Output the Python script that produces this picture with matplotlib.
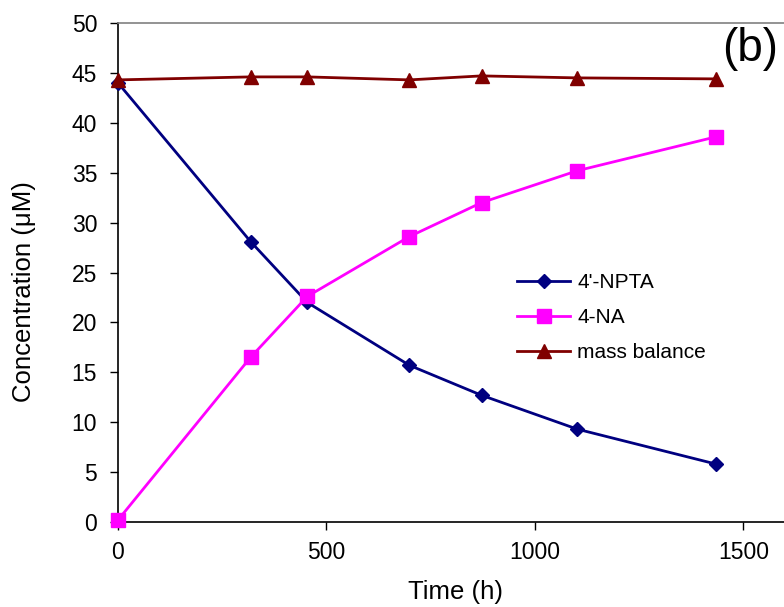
import matplotlib
matplotlib.use("Agg")
import matplotlib.pyplot as plt

plt.rcParams['font.family'] = ['Liberation Sans', 'DejaVu Sans']

time_h = [0, 318, 454, 699, 872, 1102, 1435]
npta = [44.0, 28.1, 22.0, 15.7, 12.7, 9.3, 5.8]
na4 = [0.2, 16.5, 22.6, 28.6, 32.0, 35.2, 38.6]
mass_balance = [44.3, 44.6, 44.6, 44.3, 44.7, 44.5, 44.4]

fig = plt.figure(figsize=(7.84, 6.07), dpi=100)
ax = fig.add_axes([118/784, (607-522)/607, 667/784, (522-23)/607])

ax.plot(time_h, npta, color='#000080', marker='D', markersize=7, lw=2, label="4'-NPTA", clip_on=False, zorder=3)
ax.plot(time_h, na4, color='#FF00FF', marker='s', markersize=10, lw=2, label="4-NA", clip_on=False, zorder=3)
ax.plot(time_h, mass_balance, color='#800000', marker='^', markersize=10, lw=2, label="mass balance", clip_on=False, zorder=4)

ax.set_xlim(0, 1600)
ax.set_ylim(0, 50)
ax.set_xticks([0, 500, 1000, 1500])
ax.set_yticks(range(0, 51, 5))
ax.tick_params(axis='both', labelsize=16.5, direction='out', length=6, width=1, colors='black')
ax.tick_params(axis='x', pad=8)
ax.tick_params(axis='y', pad=9)
ax.spines['right'].set_visible(False)
ax.spines['top'].set_color('#808080')
ax.spines['top'].set_linewidth(1.2)
ax.spines['left'].set_linewidth(1.2)
ax.spines['bottom'].set_linewidth(1.2)

ax.set_xlabel('Time (h)', fontsize=18.5)
ax.set_ylabel('Concentration (μM)', fontsize=18.5)
ax.xaxis.set_label_coords((456-118)/667, (522-592)/499)
ax.yaxis.set_label_coords((24-118)/667, (522-292)/499)
ax.xaxis.label.set_va('center')
ax.yaxis.label.set_va('center')

ax.text((750-118)/667, (522-49)/499, '(b)', transform=ax.transAxes, fontsize=33, ha='center', va='center')

leg = ax.legend(loc='upper left', bbox_to_anchor=((517-118)/667, (522-273)/499), frameon=False, fontsize=15,
                handlelength=2.55, handletextpad=0.35, labelspacing=0.78, borderaxespad=0, borderpad=0)

fig.savefig('out.png', dpi=100)
